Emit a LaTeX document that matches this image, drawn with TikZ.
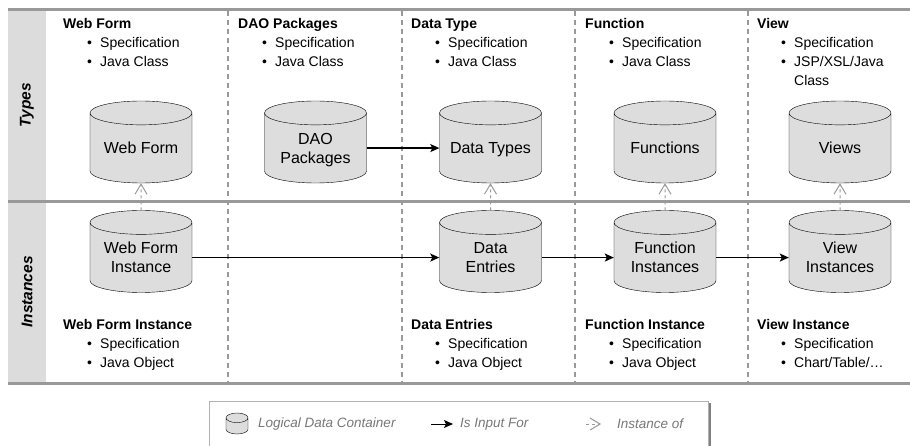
\documentclass[tikz,border=0pt]{standalone}
\usepackage{fontspec}
\setmainfont{Liberation Sans}
\usetikzlibrary{shapes.geometric}
\usetikzlibrary{arrows.meta}

\definecolor{cylfill}{HTML}{DDDDDD}
\definecolor{rulegray}{HTML}{999999}
\definecolor{bandgray}{HTML}{DCDCDC}
\definecolor{keygray}{HTML}{777777}
\newcommand{\bul}{\hspace*{24pt}\makebox[13pt][l]{•}}
\newcommand{\bulcont}{\hspace*{37pt}}

\begin{document}
\begin{tikzpicture}[x=1pt, y=-1pt,
                          datacyl/.style={cylinder, shape border rotate=90, draw, fill=cylfill, aspect=0.314, text width=76pt, text height=11.7pt, text depth=0pt, minimum width=102pt, minimum height=82pt, inner sep=0pt, anchor=shape center},
                          cyltext/.style={anchor=base, align=center, inner sep=0pt, font=\fontsize{16}{19}\selectfont},
                          oneline/.style={cyltext, yshift=-11.6pt},
                          twolines/.style={cyltext, yshift=-21.3pt},
                          infotext/.style={anchor=base west, align=left, inner sep=0pt, font=\fontsize{14}{19}\selectfont},
                          rowlabel/.style={rotate=90, inner sep=0pt, font=\fontsize{15.5}{18}\selectfont\bfseries\itshape},
                          keytext/.style={anchor=west, inner sep=0pt, text=keygray, font=\fontsize{13.5}{16}\selectfont\itshape},
                          rule/.style={draw=rulegray, line width=3pt},
                          colsep/.style={draw=rulegray, line width=2pt, dash pattern=on 5pt off 4pt},
                          inputarrow/.style={-{Stealth[length=9pt,width=8pt,inset=2pt]}, line width=1.2pt},
                          instarrow/.style={-{Straight Barb[length=10pt,width=12pt]}, draw=rulegray, line width=1pt, dash pattern=on 3pt off 3pt},
                      ]
                      \useasboundingbox (0,0) rectangle (910,446);

                      %Lanes
                      \fill[bandgray] (8,10) rectangle (46,383);
                      \foreach \x in {228,401.5,574.5,748}
                          \draw[colsep] (\x,11.5) -- (\x,381.5);
                      \draw[rule] (8,10) -- (910,10);
                      \draw[rule] (8,201.5) -- (910,201.5);
                      \draw[rule] (8,383) -- (910,383);
                      \node[rowlabel] (types)     at (27,105) {Types};
                      \node[rowlabel] (instances) at (27,292) {Instances};

                      %Nodes
                      \node[datacyl] (webform)  at (141,142)   {};
                      \node[datacyl] (dao)      at (315.5,142) {};
                      \node[datacyl] (datatype) at (490.5,142) {};
                      \node[datacyl] (function) at (665,142)   {};
                      \node[datacyl] (view)     at (840,142)   {};

                      \node[datacyl] (webforminst)  at (141,251.5)   {};
                      \node[datacyl] (dataentry)    at (490.5,251.5) {};
                      \node[datacyl] (functioninst) at (665,251.5)   {};
                      \node[datacyl] (viewinst)     at (840,251.5)   {};

                      %Labels in the containers
                      \node[oneline]  (webformlbl)  at (webform.shape center)  {Web Form};
                      \node[twolines] (daolbl)      at (dao.shape center)      {DAO\\Packages};
                      \node[oneline]  (datatypelbl) at (datatype.shape center) {Data Types};
                      \node[oneline]  (functionlbl) at (function.shape center) {Functions};
                      \node[oneline]  (viewlbl)     at (view.shape center)     {Views};

                      \node[twolines] (webforminstlbl)  at (webforminst.shape center)  {Web Form\\Instance};
                      \node[twolines] (dataentrylbl)    at (dataentry.shape center)    {Data\\Entries};
                      \node[twolines] (functioninstlbl) at (functioninst.shape center) {Function\\Instances};
                      \node[twolines] (viewinstlbl)     at (viewinst.shape center)     {View\\Instances};

                      %Texts (placed by the baseline of their last line)
                      \node[infotext] (webformtxt)  at (63,67)  {\textbf{Web Form}\\\bul Specification\\\bul Java Class};
                      \node[infotext] (daotxt)      at (238,67) {\textbf{DAO Packages}\\\bul Specification\\\bul Java Class};
                      \node[infotext] (datatypetxt) at (411,67) {\textbf{Data Type}\\\bul Specification\\\bul Java Class};
                      \node[infotext] (functiontxt) at (585,67) {\textbf{Function}\\\bul Specification\\\bul Java Class};
                      \node[infotext] (viewtxt)     at (757,86) {\textbf{View}\\\bul Specification\\\bul JSP/XSL/Java\\\bulcont Class};

                      \node[infotext] (webforminsttxt)  at (63,367)  {\textbf{Web Form Instance}\\\bul Specification\\\bul Java Object};
                      \node[infotext] (dataentrytxt)    at (411,367) {\textbf{Data Entries}\\\bul Specification\\\bul Java Object};
                      \node[infotext] (functioninsttxt) at (585,367) {\textbf{Function Instance}\\\bul Specification\\\bul Java Object};
                      \node[infotext] (viewinsttxt)     at (757,367) {\textbf{View Instance}\\\bul Specification\\\bul Chart/Table/…};

                      %Lines
                      \draw[inputarrow] (dao.east) -- (datatype.west);
                      \draw[inputarrow] (webforminst.east) -- (dataentry.west);
                      \draw[inputarrow] (dataentry.east) -- (functioninst.west);
                      \draw[inputarrow] (functioninst.east) -- (viewinst.west);
                      \draw[instarrow] (webforminst.north) -- (webform.south);
                      \draw[instarrow] (dataentry.north) -- (datatype.south);
                      \draw[instarrow] (functioninst.north) -- (function.south);
                      \draw[instarrow] (viewinst.north) -- (view.south);

                      %Legend
                      \draw[draw=gray!60, line width=0.8pt] (209,401) rectangle (708,450);
                      \draw[draw=gray, line width=2pt] (709.5,403) -- (709.5,450);
                      \node[datacyl, text width=16pt, text height=4pt, minimum width=22pt, minimum height=21pt, aspect=0.6] (keycyl) at (237,423.5) {};
                      \node[keytext] (keycyltxt) at (258,424) {Logical Data Container};
                      \coordinate (keyina) at (431,424);
                      \coordinate (keyinb) at (453,424);
                      \draw[inputarrow, line width=1pt] (keyina) -- (keyinb);
                      \node[keytext] (keyintxt) at (460,424) {Is Input For};
                      \coordinate (keyofa) at (586,424);
                      \coordinate (keyofb) at (601,424);
                      \draw[instarrow] (keyofa) -- (keyofb);
                      \node[keytext] (keyoftxt) at (617,424) {Instance of};
                  \end{tikzpicture}
\end{document}
